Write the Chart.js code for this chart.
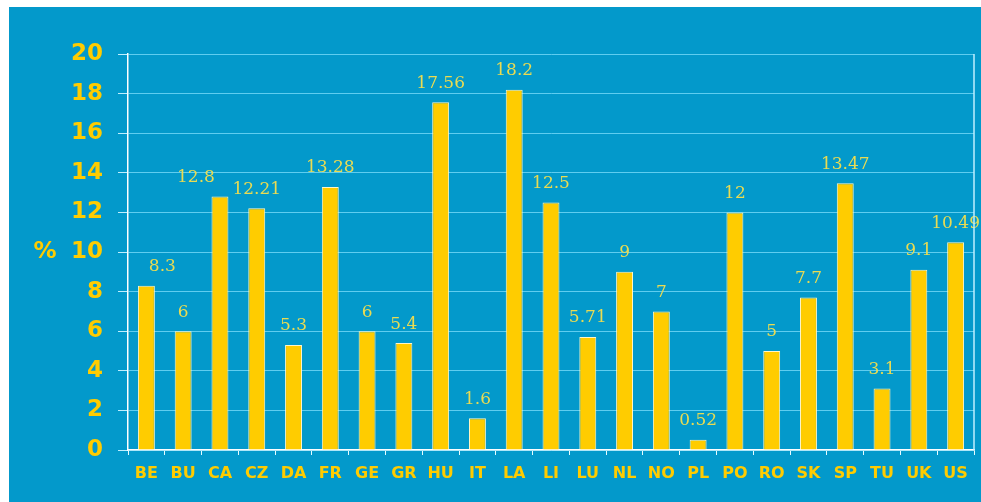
<!DOCTYPE html>
<html>
<head>
<meta charset="utf-8">
<script src="https://cdn.jsdelivr.net/npm/chart.js@4.4.1/dist/chart.umd.min.js"></script>
<style>
  html, body { margin: 0; padding: 0; background: #ffffff; }
  #cadre { position: absolute; left: 9px; top: 7px; width: 972px; height: 495px; background: #0399cb; }
</style>
</head>
<body>
<div id="cadre"><canvas id="myChart" width="972" height="495"></canvas></div>
<script>
// pays (abréviations) et pourcentages
const pays = ['BE','BU','CA','CZ','DA','FR','GE','GR','HU','IT','LA','LI','LU','NL','NO','PL','PO','RO','SK','SP','TU','UK','US'];
const valeurs = [8.3, 6, 12.8, 12.21, 5.3, 13.28, 6, 5.4, 17.56, 1.6, 18.2, 12.5, 5.71, 9, 7, 0.52, 12, 5, 7.7, 13.47, 3.1, 9.1, 10.49];
const graduations = [0, 2, 4, 6, 8, 10, 12, 14, 16, 18, 20];

const jaune = '#ffcc00';
const grille = '#5fcdf0';

// petit décalage horizontal des étiquettes qui se chevauchent
const decalage = { BE: 16, CA: -24 };

const etiquettes = {
    id: 'etiquettes',
    afterDatasetsDraw(chart) {
        const ctx = chart.ctx;
        const meta = chart.getDatasetMeta(0);
        ctx.save();
        ctx.fillStyle = '#eadb52';
        ctx.font = '17px "DejaVu Serif"';
        ctx.textAlign = 'center';
        ctx.textBaseline = 'middle';
        meta.data.forEach(function(bar, i) {
            const dx = decalage[pays[i]] || 0;
            ctx.fillText(String(valeurs[i]), bar.x + dx, bar.y - 19);
        });
        // le signe % à gauche, au niveau de la graduation 10
        ctx.font = 'bold 23px "DejaVu Sans"';
        ctx.fillStyle = jaune;
        ctx.fillText('%', 36, chart.scales.y.getPixelForValue(10));
        // bordure droite de la zone du graphique
        const area = chart.chartArea;
        ctx.strokeStyle = '#bfefff';
        ctx.lineWidth = 1.5;
        ctx.beginPath();
        ctx.moveTo(area.right, area.top);
        ctx.lineTo(area.right, area.bottom);
        ctx.stroke();
        ctx.restore();
    }
};

const ctx = document.getElementById('myChart');
const chart = new Chart(ctx, {
    type: 'bar',
    data: {
        labels: pays,
        datasets: [{
            data: valeurs,
            backgroundColor: jaune,
            borderColor: '#fff6c8',
            borderWidth: 1,
            barPercentage: 0.46,
            categoryPercentage: 1
        }]
    },
    options: {
        responsive: false,
        animation: false,
        layout: { padding: { left: 0, top: 47, right: 7, bottom: 0 } },
        plugins: {
            legend: { display: false },
            tooltip: { enabled: false }
        },
        scales: {
            x: {
                afterFit: function(scale) { scale.height = 52; },
                grid: {
                    offset: true,
                    drawOnChartArea: false,
                    drawTicks: true,
                    tickLength: 5,
                    color: '#e8fbff'
                },
                border: { color: '#ffffff', width: 1.5 },
                ticks: {
                    color: jaune,
                    padding: 9,
                    font: { family: '"DejaVu Sans"', size: 16, weight: 'bold' }
                }
            },
            y: {
                min: 0,
                max: 20,
                afterFit: function(scale) { scale.width = 119; },
                afterBuildTicks: function(scale) {
                    scale.ticks = graduations.map(function(v) { return { value: v }; });
                },
                grid: {
                    color: grille,
                    lineWidth: 1,
                    tickLength: 10,
                    tickColor: '#bfefff'
                },
                border: { color: '#ffffff', width: 1.5 },
                ticks: {
                    color: jaune,
                    padding: 15,
                    font: { family: '"DejaVu Sans"', size: 23, weight: 'bold' }
                }
            }
        }
    },
    plugins: [etiquettes]
});
</script>
</body>
</html>
